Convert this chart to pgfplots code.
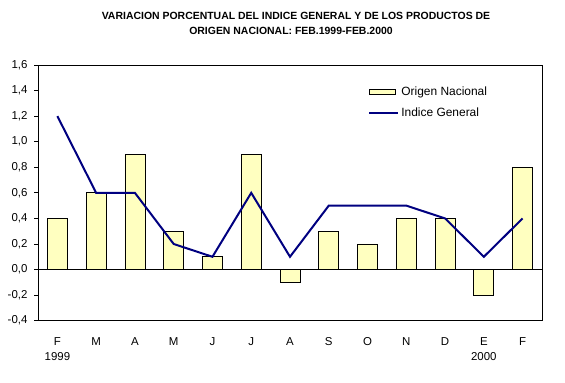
\documentclass[border=0pt]{standalone}
\usepackage{pgfplots}
\pgfplotsset{compat=1.18}
\usepackage{fontspec}
\setmainfont{Liberation Sans}
\definecolor{baryellow}{RGB}{255,255,192}
\definecolor{navyline}{RGB}{0,0,128}
\pgfplotsset{
  barlegend/.style={legend image code/.code={\draw[##1] (0bp,-2.5bp) rectangle (26bp,2.5bp);}},
  linelegend/.style={legend image code/.code={\draw[##1] (0bp,0bp) -- (29bp,0bp);}},
}
\begin{document}
\begin{tikzpicture}
\path (0,0) rectangle (565bp,383bp);
\begin{axis}[
  at={(38bp,62.3bp)}, anchor=south west,
  scale only axis, width=504bp, height=255.7bp,
  xmin=-0.5, xmax=12.5, ymin=-0.4, ymax=1.6,
  font=\fontsize{11.5}{13}\selectfont,
  xtick={0,...,12},
  xticklabels={{F\\1999},M,A,M,J,J,A,S,O,N,D,{E\\2000},F},
  xticklabel style={align=center, yshift=-9bp, font=\fontsize{11.5}{15}\selectfont},
  x tick style={draw=none},
  ytick={-0.4,-0.2,0,0.2,0.4,0.6,0.8,1.0,1.2,1.4,1.6},
  yticklabels={{-0,4},{-0,2},{0,0},{0,2},{0,4},{0,6},{0,8},{1,0},{1,2},{1,4},{1,6}},
  yticklabel style={xshift=-3bp},
  ytick pos=left, tick align=outside, major tick length=4bp,
  y tick style={black, line width=0.8bp},
  axis line style={line width=0.8bp},
  legend style={at={(0.655,0.925)}, anchor=north west, draw=none, fill=none,
    font=\fontsize{12}{13}\selectfont, row sep=7bp, inner sep=0pt},
  legend cell align=left,
]
\addplot[ybar, bar width=20bp, fill=baryellow, draw=black, line width=0.8bp, barlegend]
  coordinates {(0,0.4) (1,0.6) (2,0.9) (3,0.3) (4,0.1) (5,0.9) (6,-0.1) (7,0.3) (8,0.2) (9,0.4) (10,0.4) (11,-0.2) (12,0.8)};
\addlegendentry{Origen Nacional}
\addplot[navyline, line width=2bp, mark=none, linelegend]
  coordinates {(0,1.2) (1,0.6) (2,0.6) (3,0.2) (4,0.1) (5,0.6) (6,0.1) (7,0.5) (8,0.5) (9,0.5) (10,0.4) (11,0.1) (12,0.4)};
\addlegendentry{Indice General}
\draw[black, line width=0.8bp] (axis cs:-0.5,0) -- (axis cs:12.5,0);
\end{axis}
\node[align=center, font=\bfseries\fontsize{10.5}{15}\selectfont, anchor=base] at (296bp,383bp-20bp)
  {VARIACION PORCENTUAL DEL INDICE GENERAL Y DE LOS PRODUCTOS DE};
\node[align=center, font=\bfseries\fontsize{10.5}{15}\selectfont, anchor=base] at (291bp,383bp-35bp)
  {ORIGEN NACIONAL: FEB.1999-FEB.2000};
\end{tikzpicture}
\end{document}
